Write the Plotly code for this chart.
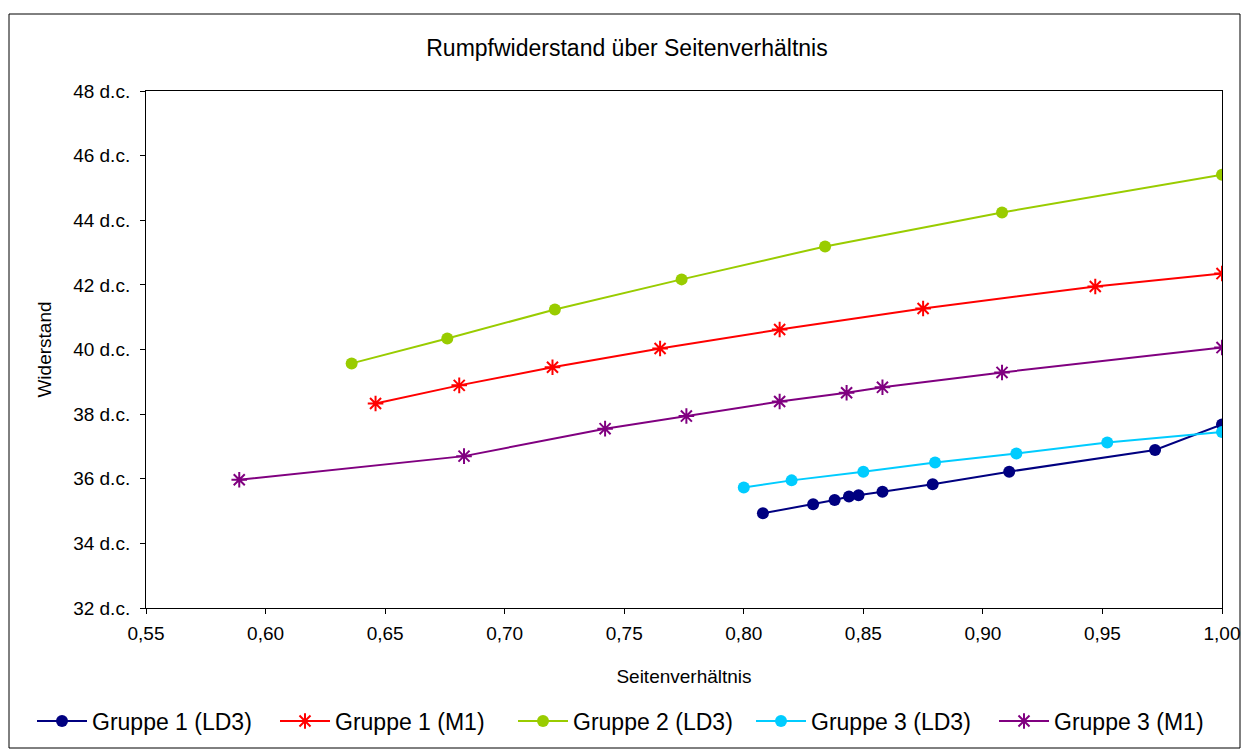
import plotly.graph_objects as go

# Seitenverhältnis (x) und Widerstand (y) je Messreihe
g1_ld3_x = [0.808, 0.829, 0.838, 0.844, 0.848, 0.858, 0.879, 0.911, 0.972, 1.000]
g1_ld3_y = [34.93, 35.21, 35.34, 35.45, 35.49, 35.60, 35.83, 36.22, 36.89, 37.68]

g1_m1_x = [0.646, 0.681, 0.720, 0.765, 0.815, 0.875, 0.947, 1.000]
g1_m1_y = [38.33, 38.89, 39.45, 40.03, 40.62, 41.27, 41.95, 42.35]

g2_ld3_x = [0.636, 0.676, 0.721, 0.774, 0.834, 0.908, 1.000]
g2_ld3_y = [39.57, 40.34, 41.24, 42.17, 43.19, 44.24, 45.41]

g3_ld3_x = [0.800, 0.820, 0.850, 0.880, 0.914, 0.952, 1.000]
g3_ld3_y = [35.73, 35.95, 36.22, 36.50, 36.78, 37.12, 37.45]

g3_m1_x = [0.589, 0.683, 0.742, 0.776, 0.815, 0.843, 0.858, 0.908, 1.000]
g3_m1_y = [35.97, 36.70, 37.55, 37.94, 38.39, 38.66, 38.83, 39.29, 40.06]

series = [
    ("Gruppe 1 (LD3)", g1_ld3_x, g1_ld3_y, "#000080", "circle"),
    ("Gruppe 1 (M1)", g1_m1_x, g1_m1_y, "#FF0000", "asterisk-open"),
    ("Gruppe 2 (LD3)", g2_ld3_x, g2_ld3_y, "#99CC00", "circle"),
    ("Gruppe 3 (LD3)", g3_ld3_x, g3_ld3_y, "#00CCFF", "circle"),
    ("Gruppe 3 (M1)", g3_m1_x, g3_m1_y, "#800080", "asterisk-open"),
]

x_ticks = [0.55, 0.60, 0.65, 0.70, 0.75, 0.80, 0.85, 0.90, 0.95, 1.00]
x_tick_text = ["0,55", "0,60", "0,65", "0,70", "0,75", "0,80", "0,85", "0,90", "0,95", "1,00"]
y_ticks = [32, 34, 36, 38, 40, 42, 44, 46, 48]
y_tick_text = [f"{v} d.c." for v in y_ticks]

FONT = "Arial, Liberation Sans, sans-serif"

# left edge (px) of each legend entry along the bottom row
legend_left_px = [32, 275, 513, 751, 994]

fig = go.Figure()
legend_layouts = {}
for i, (name, xs, ys, color, symbol) in enumerate(series):
    star = symbol.startswith("asterisk")
    key = "legend" if i == 0 else f"legend{i + 1}"
    fig.add_trace(go.Scatter(
        x=xs, y=ys, name=name, mode="lines+markers", legend=key,
        line=dict(color=color, width=2),
        marker=dict(symbol=symbol, size=13 if star else 12, color=color,
                    line=dict(color=color, width=2 if star else 0)),
    ))
    legend_layouts[key] = dict(
        orientation="h", xref="container", yref="container",
        x=legend_left_px[i] / 1244, xanchor="left", y=1 - 721 / 756, yanchor="middle",
        itemwidth=50, font=dict(family=FONT, size=23, color="black"),
        bgcolor="rgba(0,0,0,0)",
    )

axis_common = dict(
    showgrid=False, zeroline=False, showline=True, linecolor="black", linewidth=1,
    mirror=True, ticks="outside", ticklen=5, tickcolor="black", tickwidth=1,
    tickfont=dict(family=FONT, size=19, color="black"), automargin=False,
)

fig.update_layout(
    width=1244, height=756,
    paper_bgcolor="white", plot_bgcolor="white",
    margin=dict(l=146, r=22, t=91, b=148, autoexpand=False),
    font=dict(family=FONT, color="black"),
    showlegend=True,
    title=dict(text="Rumpfwiderstand über Seitenverhältnis", x=0.504, xref="container",
               xanchor="center", y=1 - 48 / 756, yref="container", yanchor="middle",
               font=dict(family=FONT, size=23, color="black")),
    xaxis=dict(range=[0.55, 1.0], tickvals=x_ticks, ticktext=x_tick_text, ticklabelstandoff=3,
               title=dict(text="Seitenverhältnis", font=dict(family=FONT, size=19), standoff=26),
               **axis_common),
    yaxis=dict(range=[32, 48], tickvals=y_ticks, ticktext=y_tick_text, ticklabelstandoff=6,
               title=dict(text="Widerstand", font=dict(family=FONT, size=19), standoff=16),
               **axis_common),
    shapes=[dict(type="rect", xref="paper", yref="paper",
                 x0=(9 - 146) / 1076, x1=(1240 - 146) / 1076,
                 y0=(608 - 748) / 517, y1=(608 - 14) / 517,
                 line=dict(color="black", width=1), fillcolor="rgba(0,0,0,0)", layer="below")],
    **legend_layouts,
)

fig.write_html("out.html")
